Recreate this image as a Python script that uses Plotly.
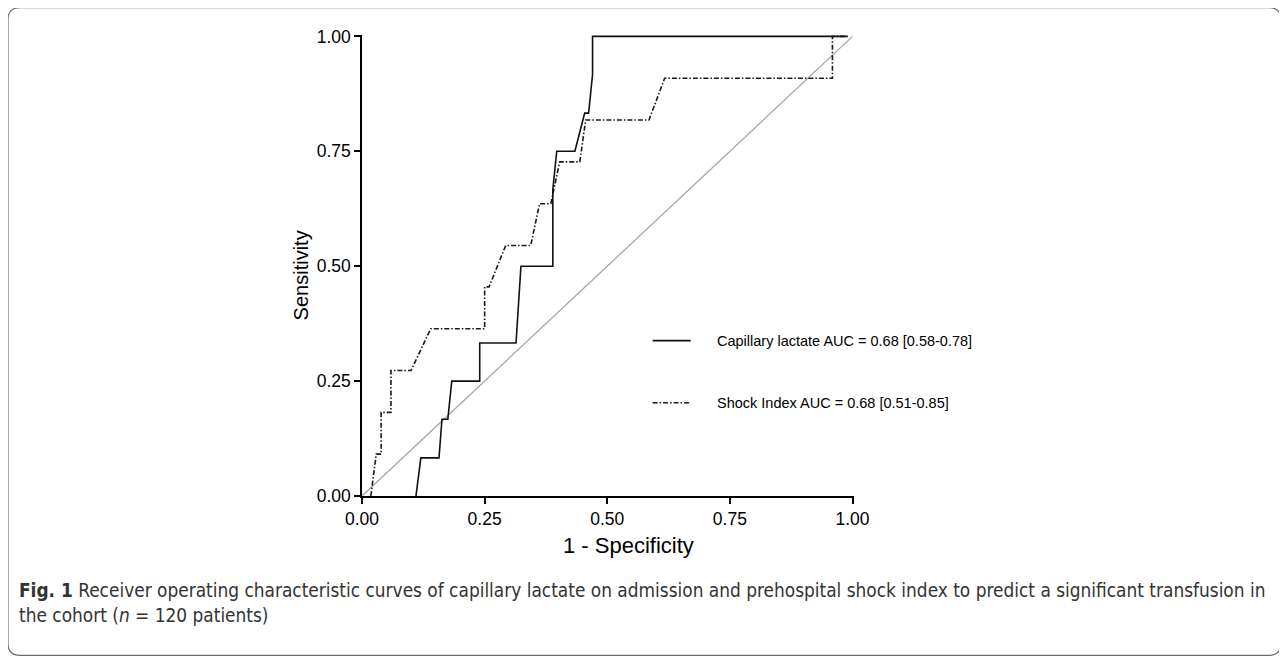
import plotly.graph_objects as go

# ---- data ----
lactate_fpr = [0.110, 0.120, 0.157, 0.163, 0.175, 0.183, 0.240, 0.240, 0.314, 0.324,
               0.389, 0.389, 0.397, 0.434, 0.454, 0.462, 0.470, 0.470, 0.990]
lactate_tpr = [0.000, 0.083, 0.083, 0.167, 0.167, 0.250, 0.250, 0.333, 0.333, 0.500,
               0.500, 0.667, 0.750, 0.750, 0.833, 0.833, 0.917, 1.000, 1.000]

shock_fpr = [0.018, 0.029, 0.039, 0.039, 0.059, 0.059, 0.100, 0.140, 0.250, 0.250,
             0.259, 0.293, 0.344, 0.362, 0.385, 0.403, 0.444, 0.456, 0.585, 0.617,
             0.959, 0.959, 0.990]
shock_tpr = [0.000, 0.091, 0.091, 0.182, 0.182, 0.273, 0.273, 0.364, 0.364, 0.455,
             0.455, 0.545, 0.545, 0.636, 0.636, 0.727, 0.727, 0.818, 0.818, 0.909,
             0.909, 1.000, 1.000]

ref_line = [0.0, 1.0]

series_names = ["Capillary lactate AUC = 0.68 [0.58-0.78]",
                "Shock Index AUC = 0.68 [0.51-0.85]"]
tick_vals = [0.0, 0.25, 0.5, 0.75, 1.0]
tick_text = ["0.00", "0.25", "0.50", "0.75", "1.00"]
x_title = "1 - Specificity"
y_title = "Sensitivity"
caption_1 = ("<b>Fig. 1</b> Receiver operating characteristic curves of capillary lactate on "
             "admission and prehospital shock index to predict a significant transfusion in")
caption_2 = "the cohort (<i>n</i> = 120 patients)"

# ---- layout geometry (page pixels; the page body has an 8px margin) ----
OFF = 8
W, H = 1287 - OFF, 662 - OFF
PL, PR, PT, PB = 362 - OFF, 853 - OFF, 36 - OFF, 496 - OFF


def px(x):
    return (x - OFF - PL) / (PR - PL)


def py(y):
    return (PB - (y - OFF)) / (PB - PT)


FONT = "Liberation Sans, Arial, sans-serif"
CAP_FONT = "DejaVu Sans Condensed, Liberation Sans Narrow, Arial Narrow, sans-serif"

SOLID = dict(color="#111111", width=1.6)
DASHDOT = dict(color="#1a1a1a", width=1.6, dash="5px,2px,1.5px,2px")

fig = go.Figure()

fig.add_trace(go.Scatter(x=ref_line, y=ref_line, mode="lines",
                         line=dict(color="#a6a6a6", width=1.3),
                         showlegend=False, hoverinfo="skip"))
fig.add_trace(go.Scatter(x=shock_fpr, y=shock_tpr, mode="lines", name=series_names[1],
                         line=DASHDOT, showlegend=False))
fig.add_trace(go.Scatter(x=lactate_fpr, y=lactate_tpr, mode="lines", name=series_names[0],
                         line=SOLID, showlegend=False))

axis_common = dict(
    showgrid=False, zeroline=False, showline=True, linecolor="black", linewidth=1.5,
    ticks="outside", ticklen=6, tickwidth=1.5, tickcolor="black",
    tickvals=tick_vals, ticktext=tick_text,
    tickfont=dict(family=FONT, size=17.5, color="black"),
)

fig.update_layout(
    width=W, height=H,
    margin=dict(l=PL, r=W - PR - 1.5, t=PT - 1.5, b=H - PB),
    paper_bgcolor="white", plot_bgcolor="white",
    xaxis=dict(range=[0, 1.003], **axis_common),
    yaxis=dict(range=[0, 1.003], **axis_common),
    showlegend=False,
)

# axis titles (placed like the original, slightly off-centre)
fig.add_annotation(text=x_title, x=px(628), y=py(545), xref="paper", yref="paper",
                   xanchor="center", yanchor="middle", showarrow=False,
                   font=dict(family=FONT, size=22, color="black"))
fig.add_annotation(text=y_title, x=px(301), y=py(276), xref="paper", yref="paper",
                   xanchor="center", yanchor="middle", showarrow=False, textangle=-90,
                   font=dict(family=FONT, size=20, color="black"))

# legend (keys + labels inside the plot)
legend_rows = [(series_names[0], SOLID, 341), (series_names[1], DASHDOT, 403)]
for name, style, yy in legend_rows:
    fig.add_shape(type="line", xref="paper", yref="paper",
                  x0=px(652), x1=px(690), y0=py(yy), y1=py(yy),
                  line=dict(color=style["color"], width=style["width"],
                            dash=style.get("dash", "solid")))
    fig.add_annotation(text=name, x=px(714), y=py(yy), xref="paper", yref="paper",
                       xanchor="left", yanchor="middle", showarrow=False,
                       font=dict(family=FONT, size=14.5, color="black"))

# rounded frame around figure + caption
x0, y0, x1, y1, r = 8.7, 8.7, 1279, 655, 12
path = (f"M {px(x0 + r)},{py(y0)} L {px(x1 - r)},{py(y0)} "
        f"Q {px(x1)},{py(y0)} {px(x1)},{py(y0 + r)} "
        f"L {px(x1)},{py(y1 - r)} Q {px(x1)},{py(y1)} {px(x1 - r)},{py(y1)} "
        f"L {px(x0 + r)},{py(y1)} Q {px(x0)},{py(y1)} {px(x0)},{py(y1 - r)} "
        f"L {px(x0)},{py(y0 + r)} Q {px(x0)},{py(y0)} {px(x0 + r)},{py(y0)} Z")
fig.add_shape(type="path", path=path, xref="paper", yref="paper",
              line=dict(color="#6b6b6b", width=1.2), fillcolor="rgba(0,0,0,0)")

fig.add_annotation(text=caption_1, x=px(18), y=py(590), xref="paper", yref="paper",
                   xanchor="left", yanchor="middle", showarrow=False,
                   font=dict(family=CAP_FONT, size=18.9, color="#333333"))
fig.add_annotation(text=caption_2, x=px(18), y=py(615), xref="paper", yref="paper",
                   xanchor="left", yanchor="middle", showarrow=False,
                   font=dict(family=CAP_FONT, size=18.9, color="#333333"))

fig.write_html("out.html")
